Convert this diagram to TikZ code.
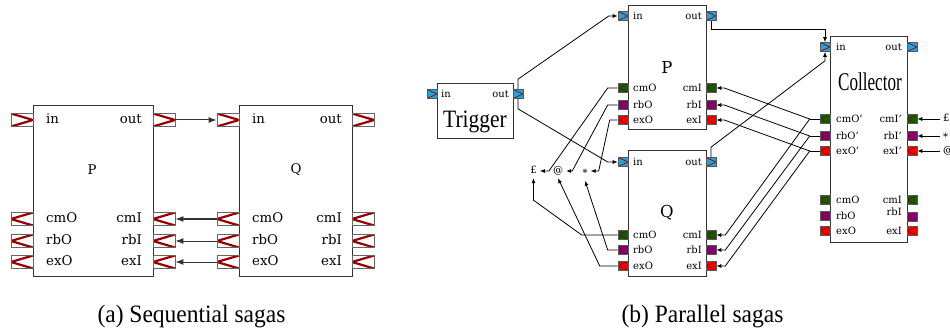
\documentclass[tikz,border=0pt]{standalone}
\usepackage{fontspec}
\setmainfont{DejaVu Serif}
\newfontfamily\capfont{Liberation Serif}
\usetikzlibrary{arrows.meta,calc}
\newcommand\sqp{\char39\relax}
\definecolor{zigc}{RGB}{150,0,0}
\definecolor{cyanp}{RGB}{30,165,225}
\definecolor{greenp}{RGB}{0,100,0}
\definecolor{purplep}{RGB}{128,0,128}
\definecolor{redp}{RGB}{250,0,0}
\tikzset{
  boxa/.style={draw=black!80, line width=1pt, fill=white, inner sep=0pt, anchor=north west},
  pa/.style={draw=black!60, line width=0.8pt, fill=white, minimum width=22pt, minimum height=13pt, inner sep=0pt},
  pb/.style={draw=black!65, line width=0.6pt, minimum width=10pt, minimum height=9pt, inner sep=0pt},
  zr/.style={path picture={\draw[zigc, line width=#1] (path picture bounding box.north west) -- (path picture bounding box.east) -- (path picture bounding box.south west);}},
  zl/.style={path picture={\draw[zigc, line width=#1] (path picture bounding box.north east) -- (path picture bounding box.west) -- (path picture bounding box.south east);}},
  pina/.style={pa, zr=2.2pt},
  pcma/.style={pa, zl=2.2pt},
  pinb/.style={pb, fill=cyanp, zr=0.7pt},
  pcmb/.style={pb, fill=greenp, zl=0.7pt},
  prbb/.style={pb, fill=purplep, zl=0.7pt},
  pexb/.style={pb, fill=redp, zl=0.7pt},
  lbla/.style={font=\fontsize{13.3}{15}\selectfont, inner sep=0pt, text height=1.5ex, text depth=.25ex},
  lblb/.style={font=\fontsize{10}{12}\selectfont, inner sep=0pt, text height=1.5ex, text depth=.25ex},
  sym/.style={font=\fontsize{10}{12}\selectfont, inner sep=3pt, text height=7pt, text depth=1pt},
  capstyle/.style={font=\fontsize{25}{28}\capfont, inner sep=0pt, anchor=base},
  arra/.style={draw=black!80, line width=1pt, -{Latex[length=8pt,width=6pt]}},
  arrb/.style={draw=black, line width=0.8pt, -{Latex[length=5pt,width=4pt]}},
  lineb/.style={draw=black, line width=0.8pt},
}
\begin{document}
\begin{tikzpicture}[x=1pt,y=-1pt]
\useasboundingbox[fill=white] (0,0) rectangle (950,331);

% ---------------- Panel (a) ----------------
\node[boxa, minimum width=120pt, minimum height=171pt] (Pa) at (33,105) {};
\node[boxa, minimum width=113pt, minimum height=171pt] (Qa) at (239,105) {};
\node[font=\fontsize{13.3}{15}\selectfont] (Palbl) at (92,170) {P};
\node[font=\fontsize{13.3}{15}\selectfont] (Qalbl) at (296,170) {Q};

\node[pina] (aPin)  at (22,120) {};
\node[pina] (aPout) at (164,120) {};
\node[pcma] (aPcmO) at (22,219) {};
\node[pcma] (aPrbO) at (22,241) {};
\node[pcma] (aPexO) at (22,262) {};
\node[pcma] (aPcmI) at (164,219) {};
\node[pcma] (aPrbI) at (164,241) {};
\node[pcma] (aPexI) at (164,262) {};

\node[pina] (aQin)  at (228,120) {};
\node[pina] (aQout) at (363,120) {};
\node[pcma] (aQcmO) at (228,219) {};
\node[pcma] (aQrbO) at (228,241) {};
\node[pcma] (aQexO) at (228,262) {};
\node[pcma] (aQcmI) at (363,219) {};
\node[pcma] (aQrbI) at (363,241) {};
\node[pcma] (aQexI) at (363,262) {};

\node[lbla, anchor=west] (la1) at (46,120) {in};
\node[lbla, anchor=east] (la2) at (142,120) {out};
\node[lbla, anchor=west] (la3) at (46,219) {cmO};
\node[lbla, anchor=west] (la4) at (46,241) {rbO};
\node[lbla, anchor=west] (la5) at (46,262) {exO};
\node[lbla, anchor=east] (la6) at (142,219) {cmI};
\node[lbla, anchor=east] (la7) at (142,241) {rbI};
\node[lbla, anchor=east] (la8) at (142,262) {exI};

\node[lbla, anchor=west] (lb1) at (252,120) {in};
\node[lbla, anchor=east] (lb2) at (342,120) {out};
\node[lbla, anchor=west] (lb3) at (252,219) {cmO};
\node[lbla, anchor=west] (lb4) at (252,241) {rbO};
\node[lbla, anchor=west] (lb5) at (252,262) {exO};
\node[lbla, anchor=east] (lb6) at (342,219) {cmI};
\node[lbla, anchor=east] (lb7) at (342,241) {rbI};
\node[lbla, anchor=east] (lb8) at (342,262) {exI};

\draw[arra] (aPout.east) -- (aQin.west);
\draw[arra] (aQcmO.west) -- (aPcmI.east);
\draw[arra] (aQrbO.west) -- (aPrbI.east);
\draw[arra] (aQexO.west) -- (aPexI.east);

% ---------------- Panel (b) ----------------
\node[boxa, minimum width=76pt, minimum height=55pt] (T) at (437,83) {};
\node[boxa, minimum width=78pt, minimum height=124pt] (P) at (628,5) {};
\node[boxa, minimum width=78pt, minimum height=126pt] (Q) at (628,150) {};
\node[boxa, minimum width=77pt, minimum height=206pt] (C) at (830,36) {};

\node[font=\fontsize{25}{28}\capfont, inner sep=0pt, anchor=base] (Tlbl) at (475,128) {\scalebox{0.86}[1]{Trigger}};
\node[font=\fontsize{25.5}{28}\capfont, inner sep=0pt, anchor=base] (Clbl) at (870,91) {\scalebox{0.67}[1]{Collector}};
\node[font=\fontsize{16.5}{18}\selectfont] (Plbl) at (667,67) {P};
\node[font=\fontsize{16.5}{18}\selectfont] (Qlbl) at (667,213) {Q};

% Trigger ports
\node[pinb] (Tin)  at (432,94) {};
\node[pinb] (Tout) at (518,94) {};
\node[lblb, anchor=west] (tl1) at (441,94) {in};
\node[lblb, anchor=east] (tl2) at (509,94) {out};

% P ports
\node[pinb] (Pin)  at (623,16) {};
\node[pinb] (Pout) at (711,16) {};
\node[pcmb] (PcmO) at (623,88) {};
\node[prbb] (PrbO) at (623,105) {};
\node[pexb] (PexO) at (623,120) {};
\node[pcmb] (PcmI) at (711,88) {};
\node[prbb] (PrbI) at (711,105) {};
\node[pexb] (PexI) at (711,120) {};
\node[lblb, anchor=west] (pl1) at (633,16) {in};
\node[lblb, anchor=east] (pl2) at (702,16) {out};
\node[lblb, anchor=west] (pl3) at (633,88) {cmO};
\node[lblb, anchor=west] (pl4) at (633,105) {rbO};
\node[lblb, anchor=west] (pl5) at (633,120) {exO};
\node[lblb, anchor=east] (pl6) at (702,88) {cmI};
\node[lblb, anchor=east] (pl7) at (702,105) {rbI};
\node[lblb, anchor=east] (pl8) at (702,120) {exI};

% Q ports
\node[pinb] (Qin)  at (623,162) {};
\node[pinb] (Qout) at (711,162) {};
\node[pcmb] (QcmO) at (623,235) {};
\node[prbb] (QrbO) at (623,250) {};
\node[pexb] (QexO) at (623,266) {};
\node[pcmb] (QcmI) at (711,235) {};
\node[prbb] (QrbI) at (711,250) {};
\node[pexb] (QexI) at (711,266) {};
\node[lblb, anchor=west] (ql1) at (633,162) {in};
\node[lblb, anchor=east] (ql2) at (702,162) {out};
\node[lblb, anchor=west] (ql3) at (633,235) {cmO};
\node[lblb, anchor=west] (ql4) at (633,250) {rbO};
\node[lblb, anchor=west] (ql5) at (633,266) {exO};
\node[lblb, anchor=east] (ql6) at (702,235) {cmI};
\node[lblb, anchor=east] (ql7) at (702,250) {rbI};
\node[lblb, anchor=east] (ql8) at (702,266) {exI};

% Collector ports
\node[pinb] (Cin)   at (825,47) {};
\node[pinb] (Cout)  at (912,47) {};
\node[pcmb] (CcmOp) at (825,119) {};
\node[prbb] (CrbOp) at (825,136) {};
\node[pexb] (CexOp) at (825,151) {};
\node[pcmb] (CcmO)  at (825,200) {};
\node[prbb] (CrbO)  at (825,216) {};
\node[pexb] (CexO)  at (825,231) {};
\node[pcmb] (CcmIp) at (912,119) {};
\node[prbb] (CrbIp) at (912,136) {};
\node[pexb] (CexIp) at (912,151) {};
\node[pcmb] (CcmI)  at (912,200) {};
\node[prbb] (CrbI)  at (912,217) {};
\node[pexb] (CexI)  at (912,231) {};
\node[lblb, anchor=west] (cl1) at (836,47) {in};
\node[lblb, anchor=east] (cl2) at (902,47) {out};
\node[lblb, anchor=west] (cl3) at (836,119) {cmO\sqp};
\node[lblb, anchor=west] (cl4) at (836,136) {rbO\sqp};
\node[lblb, anchor=west] (cl5) at (836,151) {exO\sqp};
\node[lblb, anchor=west] (cl6) at (836,200) {cmO};
\node[lblb, anchor=west] (cl7) at (836,216) {rbO};
\node[lblb, anchor=west] (cl8) at (836,231) {exO};
\node[lblb, anchor=east] (cl9) at (902,119) {cmI\sqp};
\node[lblb, anchor=east] (cl10) at (902,136) {rbI\sqp};
\node[lblb, anchor=east] (cl11) at (902,151) {exI\sqp};
\node[lblb, anchor=east] (cl12) at (902,200) {cmI};
\node[lblb, anchor=east] (cl13) at (902,212) {rbI};
\node[lblb, anchor=east] (cl14) at (902,231) {exI};

% symbol labels
\node[sym] (pound) at (533.5,171) {£};
\node[sym] (atn)   at (558,171) {@};
\node[sym] (star)  at (585,173.5) {*};
\node[sym, anchor=west] (rpound) at (940,119) {£};
\node[sym, anchor=west] (rstar)  at (940,138) {*};
\node[sym, anchor=west] (rat)    at (940,151) {@};

% Trigger -> P, Q
\draw[arrb] (Tout.north) -- ++(0,-10) -- ($(Pin.west)+(-9,0)$) -- (Pin.west);
\draw[arrb] (Tout.south) -- ++(0,10) -- ($(Qin.west)+(-10,0)$) -- (Qin.west);
% P, Q -> Collector
\draw[arrb] (Pout.south) -- ++(0,9) -| (Cin.north);
\draw[arrb] (Qout.north) -- ++(0,-10) -- ($(Cin.south)+(0,9)$) -- (Cin.south);

% Collector compensation broadcast
\coordinate (jcm) at ($(CcmOp.west)+(-10,0)$);
\coordinate (jrb) at ($(CrbOp.west)+(-10,0)$);
\coordinate (jex) at ($(CexOp.west)+(-10,0)$);
\draw[lineb] (CcmOp.west) -- (jcm);
\draw[lineb] (CrbOp.west) -- (jrb);
\draw[lineb] (CexOp.west) -- (jex);
\draw[arrb] (jcm) -- ($(PcmI.east)+(8,0)$) -- (PcmI.east);
\draw[arrb] (jrb) -- ($(PrbI.east)+(8,0)$) -- (PrbI.east);
\draw[arrb] (jex) -- ($(PexI.east)+(8,0)$) -- (PexI.east);
\draw[arrb] (jcm) -- ($(QcmI.east)+(9,0)$) -- (QcmI.east);
\draw[arrb] (jrb) -- ($(QrbI.east)+(9,0)$) -- (QrbI.east);
\draw[arrb] (jex) -- ($(QexI.east)+(9,0)$) -- (QexI.east);

% P outputs to symbols
\draw[arrb] (PcmO.west) -- ++(-10,0) -- ($(pound.east)+(9,0)$) -- (pound.east);
\draw[arrb] (PrbO.west) -- ++(-10,0) -- ($(atn.east)+(6,0)$) -- (atn.east);
\draw[arrb] (PexO.west) -- ++(-8,0) -- ($(star.east)+(8,-2.5)$) -- ($(star.east)+(0,-2.5)$);
% Q outputs to symbols
\draw[arrb] (QcmO.west) -- ++(-36,0) -- ($(pound.south)+(0,22)$) -- (pound.south);
\draw[arrb] (QrbO.west) -- ++(-10,0) -- (star.south);
\draw[arrb] (QexO.west) -- ++(-18,0) -- (atn.south);

% right-side inputs of Collector
\draw[arrb] (rpound.west) -- (CcmIp.east);
\draw[arrb] (rstar.west |- CrbIp) -- (CrbIp.east);
\draw[arrb] (rat.west) -- (CexIp.east);

% captions
\node[capstyle] (capa) at (191.5,322) {\scalebox{0.94}[1]{(a) Sequential sagas}};
\node[capstyle] (capb) at (702.5,322) {\scalebox{0.94}[1]{(b) Parallel sagas}};
\end{tikzpicture}
\end{document}
